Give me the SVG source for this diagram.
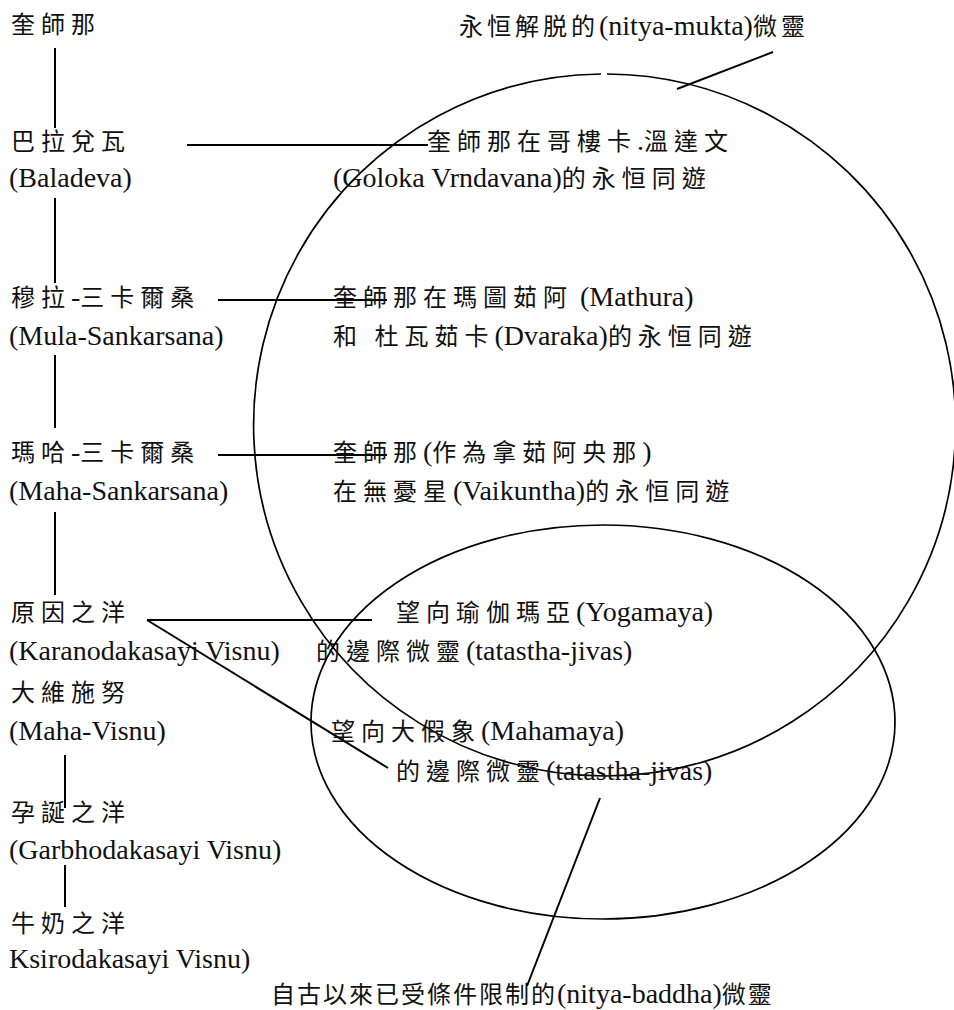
<svg xmlns="http://www.w3.org/2000/svg" width="954" height="1010" viewBox="0 0 954 1010">
<style>
text { fill: #111; font-family: "Noto Sans CJK TC", "Noto Sans CJK SC", sans-serif; font-size: 24px; letter-spacing: 6px; }
.l { font-family: "Liberation Serif", "Noto Sans CJK TC", serif; font-size: 28px; letter-spacing: 0px; }
.tight { letter-spacing: 2px; }
.mid { letter-spacing: 4px; }
.ln { stroke: #000; stroke-width: 2; fill: none; }
.set { stroke: #000; stroke-width: 1.7; fill: none; }
</style>
<rect width="954" height="1010" fill="#fff"/>

<g id="sets">
  <path id="nitya-mukta-set" class="set" d="M 607 74.01 A 351 351 0 1 1 601 74.02"/>
  <ellipse id="tatastha-set" class="set" cx="603" cy="722" rx="292" ry="197"/>
</g>

<g id="connectors">
  <line class="ln" x1="55" y1="48" x2="55" y2="128"/>
  <line class="ln" x1="55" y1="198" x2="55" y2="283"/>
  <line class="ln" x1="55" y1="355" x2="55" y2="428"/>
  <line class="ln" x1="55" y1="512" x2="55" y2="595"/>
  <line class="ln" x1="65" y1="755" x2="65" y2="808"/>
  <line class="ln" x1="65" y1="865" x2="65" y2="907"/>
  <line class="ln" x1="187" y1="145" x2="428" y2="145"/>
  <line class="ln" x1="218" y1="300" x2="387" y2="300"/>
  <line class="ln" x1="218" y1="455" x2="387" y2="455"/>
  <line class="ln" x1="147" y1="620" x2="372" y2="620"/>
  <line class="ln" x1="147" y1="620" x2="388" y2="768"/>
  <line class="ln" x1="773" y1="52" x2="677" y2="89"/>
  <line class="ln" x1="600" y1="798" x2="527" y2="986"/>
</g>

<g id="krishna"><text x="11" y="33">奎師那</text></g>
<g id="baladeva">
  <text x="11" y="150">巴拉兌瓦</text>
  <text x="9" y="187" class="l">(Baladeva)</text>
</g>
<g id="mula-sankarsana">
  <text x="11" y="306">穆拉<tspan class="l">-</tspan>三卡爾桑</text>
  <text x="9" y="345" class="l">(Mula-Sankarsana)</text>
</g>
<g id="maha-sankarsana">
  <text x="11" y="461">瑪哈<tspan class="l">-</tspan>三卡爾桑</text>
  <text x="9" y="500" class="l">(Maha-Sankarsana)</text>
</g>
<g id="karanodakasayi">
  <text x="11" y="621">原因之洋</text>
  <text x="9" y="660" class="l">(Karanodakasayi Visnu)</text>
</g>
<g id="maha-visnu">
  <text x="11" y="701">大維施努</text>
  <text x="9" y="740" class="l">(Maha-Visnu)</text>
</g>
<g id="garbhodakasayi">
  <text x="11" y="821">孕誕之洋</text>
  <text x="9" y="859" class="l">(Garbhodakasayi Visnu)</text>
</g>
<g id="ksirodakasayi">
  <text x="11" y="932">牛奶之洋</text>
  <text x="9" y="968" class="l">Ksirodakasayi Visnu)</text>
</g>

<g id="nitya-mukta">
  <text x="459" y="35" class="mid">永恒解脱的<tspan class="l">(nitya-mukta)</tspan>微靈</text>
</g>
<g id="goloka">
  <text x="427" y="150">奎師那在哥樓卡<tspan class="l">.</tspan>溫達文</text>
  <text x="333" y="187"><tspan class="l">(Goloka Vrndavana)</tspan>的永恒同遊</text>
</g>
<g id="mathura-dvaraka">
  <text x="333" y="306">奎師那在瑪圖茹阿<tspan class="l"> (Mathura)</tspan></text>
  <text x="333" y="345">和 杜瓦茹卡<tspan class="l">(Dvaraka)</tspan>的永恒同遊</text>
</g>
<g id="vaikuntha">
  <text x="333" y="461">奎師那<tspan class="l">(</tspan>作為拿茹阿央那<tspan class="l">)</tspan></text>
  <text x="333" y="500">在無憂星<tspan class="l">(Vaikuntha)</tspan>的永恒同遊</text>
</g>
<g id="yogamaya">
  <text x="396" y="621">望向瑜伽瑪亞<tspan class="l">(Yogamaya)</tspan></text>
  <text x="316" y="660">的邊際微靈<tspan class="l">(tatastha-jivas)</tspan></text>
</g>
<g id="mahamaya">
  <text x="331" y="740">望向大假象<tspan class="l">(Mahamaya)</tspan></text>
  <text x="396" y="780">的邊際微靈<tspan class="l">(tatastha-jivas)</tspan></text>
</g>
<g id="nitya-baddha">
  <text x="271" y="1003" class="tight">自古以來已受條件限制的<tspan class="l">(nitya-baddha)</tspan>微靈</text>
</g>
</svg>
